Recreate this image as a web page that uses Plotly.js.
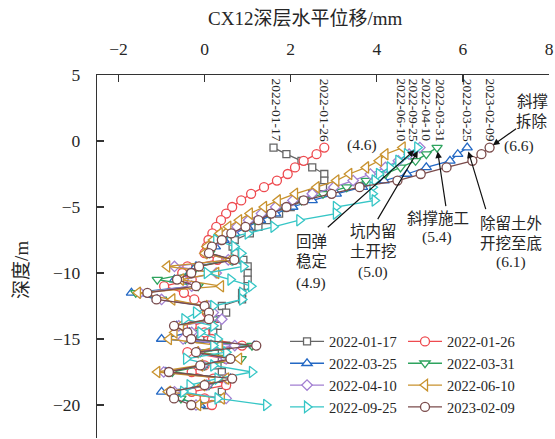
<!DOCTYPE html>
<html>
<head>
<meta charset="utf-8">
<script src="https://cdn.plot.ly/plotly-3.0.1.min.js"></script>
<style>
  html, body { margin: 0; padding: 0; background: #fff; }
  #chart { width: 555px; height: 439px; }
</style>
</head>
<body>
<div id="chart"></div>
<script>
// Depth below ground (m), one reading every 0.5 m
const depth = [
  -0.5, -1, -1.5, -2, -2.5, -3, -3.5, -4, -4.5, -5,
  -5.5, -6, -6.5, -7, -7.5, -8, -8.5, -9, -9.5, -10,
  -10.5, -11, -11.5, -12, -12.5, -13, -13.5, -14, -14.5, -15,
  -15.5, -16, -16.5, -17, -17.5, -18, -18.5, -19, -19.5, -20
];

// Horizontal displacement (mm) for each survey date
const d20220117 = [
  1.6, 1.9, 2.25, 2.5, 2.78, 2.78, 2.75, 2.5, 2.3, 2.0,
  1.73, 1.45, 1.25, 1.05, 0.7, 0.65, 0.7, 0.9, 1.0, 1.0,
  1.0, 1.0, 0.87, 0.87, 0.4, 0.5, 0.3, 0.3, 0.2, -0.1,
  0.5, 0.4, 0.4, 0.3, 0.4, 0.4, 0.5, 0.4, 0.4, 0.05
];
const d20220126 = [
  2.78, 2.6, 2.3, 2.1, 1.93, 1.68, 1.38, 1.08, 0.85, 0.64,
  0.5, 0.38, 0.27, 0.18, 0.09, 0.05, 0.0, 0.3, -0.4, -0.52,
  -0.3, -0.94, -0.48, -0.24, 0.1, 0.05, 0.2, -0.3, 0.0, 0.17,
  0.87, -0.4, 0.5, 0.0, -0.3, 0.2, 0.5, -0.3, 0.0, 0.17
];
const d20220325 = [
  6.1, 5.88, 5.7, 5.15, 4.7, 4.17, 3.67, 3.06, 2.5, 2.05,
  1.65, 1.3, 1.0, 0.7, 0.45, 0.25, 0.1, 0.65, -0.2, -0.35,
  -0.7, -0.25, -1.7, -1.1, 0.05, 0.1, 0.15, -0.65, -0.35, -1.0,
  1.15, -0.15, 0.55, -0.05, -0.9, 0.6, 0.05, -1.0, -0.6, -0.1
];
const d20220331 = [
  5.4, 5.15, 4.9, 4.55, 4.2, 3.75, 3.3, 2.75, 2.25, 1.85,
  1.5, 1.18, 0.9, 0.6, 0.38, 0.18, 0.12, 0.6, -0.15, -0.3,
  -1.1, -0.15, -1.6, -1.0, 0.1, 0.15, 0.2, -0.6, -0.3, -0.45,
  1.1, -0.1, 0.85, 0.0, -0.75, 0.55, 0.1, -0.7, -0.55, -0.15
];
const d20220410 = [
  5.0, 4.75, 4.5, 4.2, 3.85, 3.45, 3.0, 2.5, 2.05, 1.65,
  1.32, 1.02, 0.75, 0.5, 0.3, 0.12, 0.05, 0.55, -0.7, 0.27,
  -0.5, -0.3, -1.5, -1.0, 0.1, 0.2, 0.4, -0.6, -0.3, -0.5,
  0.7, -0.15, 0.5, -0.05, -0.95, 0.5, 0.05, -0.7, 0.5, -0.2
];
const d20220610 = [
  4.6, 4.2, 4.05, 3.75, 3.36, 3.06, 2.6, 2.1, 1.7, 1.38,
  1.05, 0.8, 0.55, 0.35, 0.2, 0.05, 0.0, 0.6, -0.87, 0.27,
  -0.55, 0.38, -1.55, -0.75, 0.0, 0.05, 0.1, -0.55, -0.7, -0.83,
  0.35, -0.2, 0.8, -0.1, -1.1, 0.5, -0.05, -0.85, 0.4, -0.15
];
const d20220925 = [
  4.94, 4.7, 4.5, 4.3, 4.05, 3.95, 3.9, 3.9, 3.95, 3.05,
  3.05, 2.2, 1.6, 1.0, 0.27, 0.69, 0.85, 0.69, 0.9, 0.05,
  0.6, 1.08, 0.87, 0.87, 0.2, -0.2, -0.47, 0.2, -0.1, 0.3,
  0.2, 0.5, -0.43, 0.2, 1.1, 0.3, -0.35, -0.5, 0.3, 1.43
];
const d20230209 = [
  6.62, 6.43, 6.22, 5.62, 5.02, 4.48, 3.6, 2.95, 2.3, 1.9,
  1.55, 1.25, 0.95, 0.62, 0.4, 0.17, 0.1, 0.69, -0.13, -0.31,
  -0.64, -0.2, -1.33, -1.12, 0.0, 0.1, 0.1, -0.71, -0.4, -0.31,
  1.2, -0.2, 0.6, -0.1, -0.83, 0.64, 0.0, -0.78, -0.71, -0.31
];

const dates   = ['2022-01-17', '2022-01-26', '2022-03-25', '2022-03-31',
                 '2022-04-10', '2022-06-10', '2022-09-25', '2023-02-09'];
const values  = [d20220117, d20220126, d20220325, d20220331,
                 d20220410, d20220610, d20220925, d20230209];
const colors  = ['#666666', '#ee4a4f', '#2368c4', '#2ea35e',
                 '#a27fd2', '#c8922e', '#36c6c6', '#7a4b4b'];
const symbols = ['square', 'circle', 'triangle-up', 'triangle-down',
                 'diamond', 'triangle-left', 'triangle-right', 'circle'];
const sizes   = [7, 9, 9, 9, 8, 10, 10, 9];

const FONT = 'Liberation Serif, "Noto Sans CJK SC", serif';
const INK = '#262626';

// Legend laid out in two columns: even entries left, odd entries right
const traces = dates.map((name, i) => ({
  type: 'scatter',
  mode: 'lines+markers',
  name: name,
  legend: i % 2 === 0 ? 'legend' : 'legend2',
  x: values[i],
  y: depth,
  line: { color: colors[i], width: 1.3 },
  marker: {
    symbol: symbols[i],
    size: sizes[i],
    color: '#ffffff',
    line: { color: colors[i], width: 1.3 }
  }
}));

// Vertical date labels above each curve's top reading
const dateShift = [3, 0, 0, 3, 6, -2, -4, 0];
const annotations = dates.map((name, i) => ({
  x: values[i][0], y: 2.35, xref: 'x', yref: 'y',
  text: name, showarrow: false, textangle: 90,
  xshift: dateShift[i],
  font: { family: FONT, size: 13.5, color: INK },
  xanchor: 'center', yanchor: 'middle'
}));

function label(text, px, py, size) {
  // px, py: placement in plot-area pixels converted to axis units
  return {
    x: (px - 205.5) / 43, y: (140 - py) / 13.2, xref: 'x', yref: 'y',
    text: text, showarrow: false,
    font: { family: FONT, size: size || 15.5, color: INK },
    xanchor: 'center', yanchor: 'middle'
  };
}
function arrow(series, ax, ay) {
  return {
    x: series[0], y: depth[0], xref: 'x', yref: 'y',
    ax: ax, ay: ay, text: '', showarrow: true,
    arrowhead: 2, arrowsize: 1.1, arrowwidth: 1.2, arrowcolor: '#111',
    standoff: 4
  };
}
const fmt = v => '(' + v.toFixed(1) + ')';

annotations.push(
  label('斜撑', 533, 100), label('拆除', 533, 120),
  label(fmt(d20230209[0]), 520, 145),
  label(fmt(d20220610[0]), 363, 144),
  label('斜撑施工', 439, 217), label(fmt(d20220331[0]), 438, 236),
  label('除留土外', 512, 222), label('开挖至底', 512, 242), label(fmt(d20220325[0]), 512, 261),
  label('坑内留', 374, 230), label('土开挖', 374, 250), label(fmt(d20220410[0]), 374, 271),
  label('回弹', 312, 240), label('稳定', 312, 260), label(fmt(d20220925[0]), 312, 282),
  arrow(d20230209, 28, -20),
  arrow(d20220925, -91, 81),
  arrow(d20220410, -43, 73),
  arrow(d20220331, 9, 60),
  arrow(d20220325, 19, 63),
  {
    x: 0.46, y: 1.157, xref: 'paper', yref: 'paper',
    text: 'CX12深层水平位移/mm', showarrow: false,
    font: { family: FONT, size: 19, color: INK },
    xanchor: 'center', yanchor: 'middle'
  },
  {
    x: -0.166, y: 0.463, xref: 'paper', yref: 'paper',
    text: '深度/m', showarrow: false, textangle: -90,
    font: { family: FONT, size: 19, color: INK },
    xanchor: 'center', yanchor: 'middle'
  }
);

const legendStyle = {
  orientation: 'v',
  yanchor: 'top', xanchor: 'left',
  bgcolor: 'rgba(0,0,0,0)',
  font: { family: FONT, size: 14.5, color: INK },
  tracegroupgap: 0,
  itemwidth: 34
};

const layout = {
  width: 555, height: 439,
  margin: { l: 97, r: 6, t: 75, b: 1, autoexpand: false },
  paper_bgcolor: '#ffffff', plot_bgcolor: '#ffffff',
  font: { family: FONT, color: INK },
  showlegend: true,
  legend: Object.assign({ x: 0.416, y: 0.31 }, legendStyle),
  legend2: Object.assign({ x: 0.677, y: 0.31 }, legendStyle),
  xaxis: {
    side: 'top', range: [-2.5, 8], dtick: 2, tick0: 0,
    showline: true, linecolor: '#333', linewidth: 1.2,
    ticks: 'inside', ticklen: 7, tickwidth: 1.2, tickcolor: '#333',
    showgrid: false, zeroline: false,
    tickfont: { family: FONT, size: 17.5, color: INK },
    ticklabelstandoff: 12
  },
  yaxis: {
    range: [-22.5, 5], dtick: 5, tick0: 0,
    showline: true, linecolor: '#333', linewidth: 1.2,
    ticks: 'inside', ticklen: 7, tickwidth: 1.2, tickcolor: '#333',
    showgrid: false, zeroline: false,
    tickfont: { family: FONT, size: 17.5, color: INK },
    ticklabelstandoff: 12
  },
  annotations: annotations
};

Plotly.newPlot('chart', traces, layout, { displayModeBar: false, staticPlot: true });
</script>
</body>
</html>
